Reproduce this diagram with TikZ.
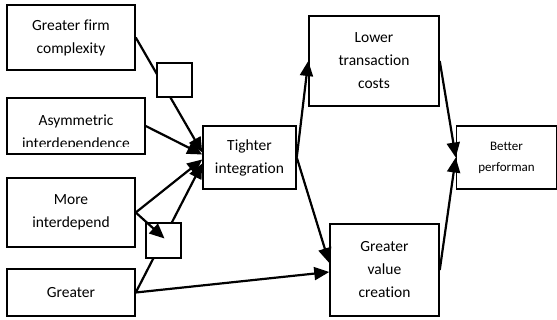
\documentclass[tikz,border=0pt]{standalone}
\usepackage{fontspec}
\setmainfont{Carlito}[Ligatures={NoCommon}]
\usepackage{tikz}
\usetikzlibrary{arrows.meta}
\tikzset{box/.style={draw, line width=1.5pt, fill=white, inner sep=0pt, align=center,
  font=\fontsize{15.5}{23}\selectfont}}
\tikzset{sbox/.style={draw, line width=1.5pt, fill=white, minimum width=35pt, minimum height=35pt}}
\tikzset{arr/.style={line width=2.2pt, -{Triangle[length=15pt, width=13pt]}}}

\begin{document}
\begin{tikzpicture}[x=1pt, y=-1pt]
    \useasboundingbox (0,0) rectangle (557,320);
    \node[box, minimum width=128pt, minimum height=65pt] (A) at (71,37.5) {Greater firm\\complexity};
    \node[box, minimum width=138pt, minimum height=56pt] (B) at (76,126) {};
    \begin{scope}
      \clip ([yshift=8pt]B.south west) rectangle (B.north east);
      \node[box, draw=none, fill=none] (Bt) at (76,133) {Asymmetric\\interdependence};
    \end{scope}
    \node[box, minimum width=128pt, minimum height=69pt] (C) at (71,212.5) {More\\interdepend};
    \node[box, minimum width=128pt, minimum height=47pt] (D) at (71,292.5) {Greater};
    \node[box, minimum width=93pt, minimum height=63pt] (T) at (249.5,157.5) {Tighter\\integration};
    \node[box, minimum width=130pt, minimum height=90pt] (L) at (374,61) {Lower\\transaction\\costs};
    \node[box, minimum width=109pt, minimum height=92pt] (G) at (384.5,270) {Greater\\value\\creation};
    \node[box, minimum width=100pt, minimum height=63pt, font=\fontsize{13}{21}\selectfont]
      (P) at (506.5,157.5) {Better\\performan};
    % these two run under the small boxes
    \draw[arr] (A.east) -- ([yshift=5pt]T.west);
    \draw[arr] (D.east) -- ([yshift=-6pt]T.west);
    \node[sbox, minimum height=34pt] (s1) at (174.5,80) {};
    \node[sbox] (s2) at (163.5,240.5) {};
    \draw[arr] (B.east) -- ([yshift=3pt]T.west);
    \draw[arr] (C.east) -- ([yshift=-2pt]T.west);
    \draw[arr] (C.east) -- ([xshift=1pt, yshift=2pt]s2.center);
    \draw[arr] (T.east) -- (L.west);
    \draw[arr] (T.east) -- ([yshift=7pt]G.west);
    \draw[arr] (D.east) -- ([yshift=-2pt]G.west);
    \draw[arr] (L.east) -- (P.west);
    \draw[arr] (G.east) -- (P.west);
\end{tikzpicture}
\end{document}
